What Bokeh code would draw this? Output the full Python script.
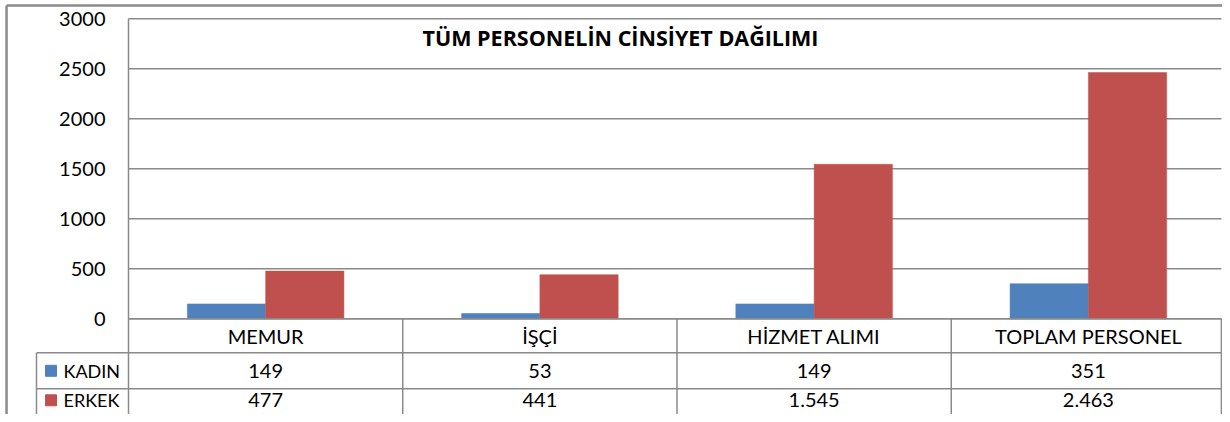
from bokeh.plotting import figure
from bokeh.models import Range1d, FixedTicker
from bokeh.embed import file_html
from bokeh.resources import INLINE
from bokeh.core.properties import value

# ---- data ----
categories = ["MEMUR", "İŞÇİ", "HİZMET ALIMI", "TOPLAM PERSONEL"]
series_names = ["KADIN", "ERKEK"]
kadin = [149, 53, 149, 351]
erkek = [477, 441, 1545, 2463]
kadin_labels = ["149", "53", "149", "351"]
erkek_labels = ["477", "441", "1.545", "2.463"]
y_ticks = [0, 500, 1000, 1500, 2000, 2500, 3000]
chart_title = "TÜM PERSONELİN CİNSİYET DAĞILIMI"
colors = ["#4F81BD", "#C0504D"]

FONT = value("Lato")
FS = "20px"
GRID = "#8a8a8a"

n = len(categories)
x_start, x_end = -0.46673, 3.98906
y_start, y_end = -957, 3183
x_leg = -0.33546           # left edge of legend column of data table
row_edges = [0, -340, -700, y_start]
row_mid = [-170, -520, -815]

p = figure(width=1222, height=414, x_range=Range1d(x_start, x_end),
           y_range=Range1d(y_start, y_end), output_backend="svg",
           toolbar_location=None, x_axis_location=None, y_axis_location="left",
           min_border=0, outline_line_color=None)
p.xgrid.visible = False
p.ygrid.visible = False

# y axis drawn at category-area left edge
ax = p.yaxis[0]
ax.ticker = FixedTicker(ticks=y_ticks)
ax.fixed_location = 0
ax.axis_line_color = None
ax.major_tick_line_color = None
ax.minor_tick_line_color = None
ax.major_tick_out = 0
ax.major_tick_in = 0
ax.major_label_standoff = 23
ax.major_label_text_font = "Lato"
ax.major_label_text_font_size = FS
ax.major_label_text_color = "black"

right = min(n, x_end - 0.004)

# outer chart border (top / left)
p.segment(x0=[x_start + 0.022, x_start + 0.022], x1=[x_end, x_start + 0.022],
          y0=[3133, 3133], y1=[3133, y_start], line_color=GRID, line_width=2.5)

# gridlines
p.segment(x0=[0] * len(y_ticks), x1=[right] * len(y_ticks), y0=y_ticks, y1=y_ticks,
          line_color=GRID, line_width=1.5)

# bars
centers = [i + 0.5 for i in range(n)]
bw = 0.2855
p.vbar(x=[c - bw / 2 for c in centers], top=kadin, bottom=0, width=bw,
       fill_color=colors[0], line_color=colors[0], line_width=0.5)
p.vbar(x=[c + bw / 2 for c in centers], top=erkek, bottom=0, width=bw,
       fill_color=colors[1], line_color=colors[1], line_width=0.5)

# data table lines
xs = [i for i in range(1, n)] + [right]
p.segment(x0=xs, x1=xs, y0=[0] * n, y1=[y_start] * n, line_color=GRID, line_width=1.5)
p.segment(x0=[0], x1=[0], y0=[y_ticks[-1]], y1=[y_start], line_color=GRID, line_width=1.5)
p.segment(x0=[x_leg], x1=[x_leg], y0=[row_edges[1]], y1=[y_start], line_color=GRID, line_width=1.5)
p.segment(x0=[0, x_leg, x_leg], x1=[right] * 3, y0=row_edges[:3], y1=row_edges[:3],
          line_color=GRID, line_width=1.5)

# table text
for row_text, ym in zip([categories, kadin_labels, erkek_labels], row_mid):
    p.text(x=centers, y=[ym] * n, text=row_text, text_align="center",
           text_baseline="middle", text_font=FONT, text_font_size=FS, text_color="black")

# legend keys in table
p.scatter(x=[-0.2826, -0.2826], y=row_mid[1:], marker="square", size=11,
          fill_color=colors, line_color=colors)
p.text(x=[-0.237, -0.237], y=row_mid[1:], text=series_names, text_align="left",
       text_baseline="middle", text_font=FONT, text_font_size="18px", text_color="black")

# title
p.text(x=[1.794], y=[2813], text=[chart_title], text_align="center",
       text_baseline="middle", text_font=value("Open Sans"), text_font_size="21.5px",
       text_font_style="bold", text_color="black")

open("out.html", "w").write(file_html(p, INLINE))
